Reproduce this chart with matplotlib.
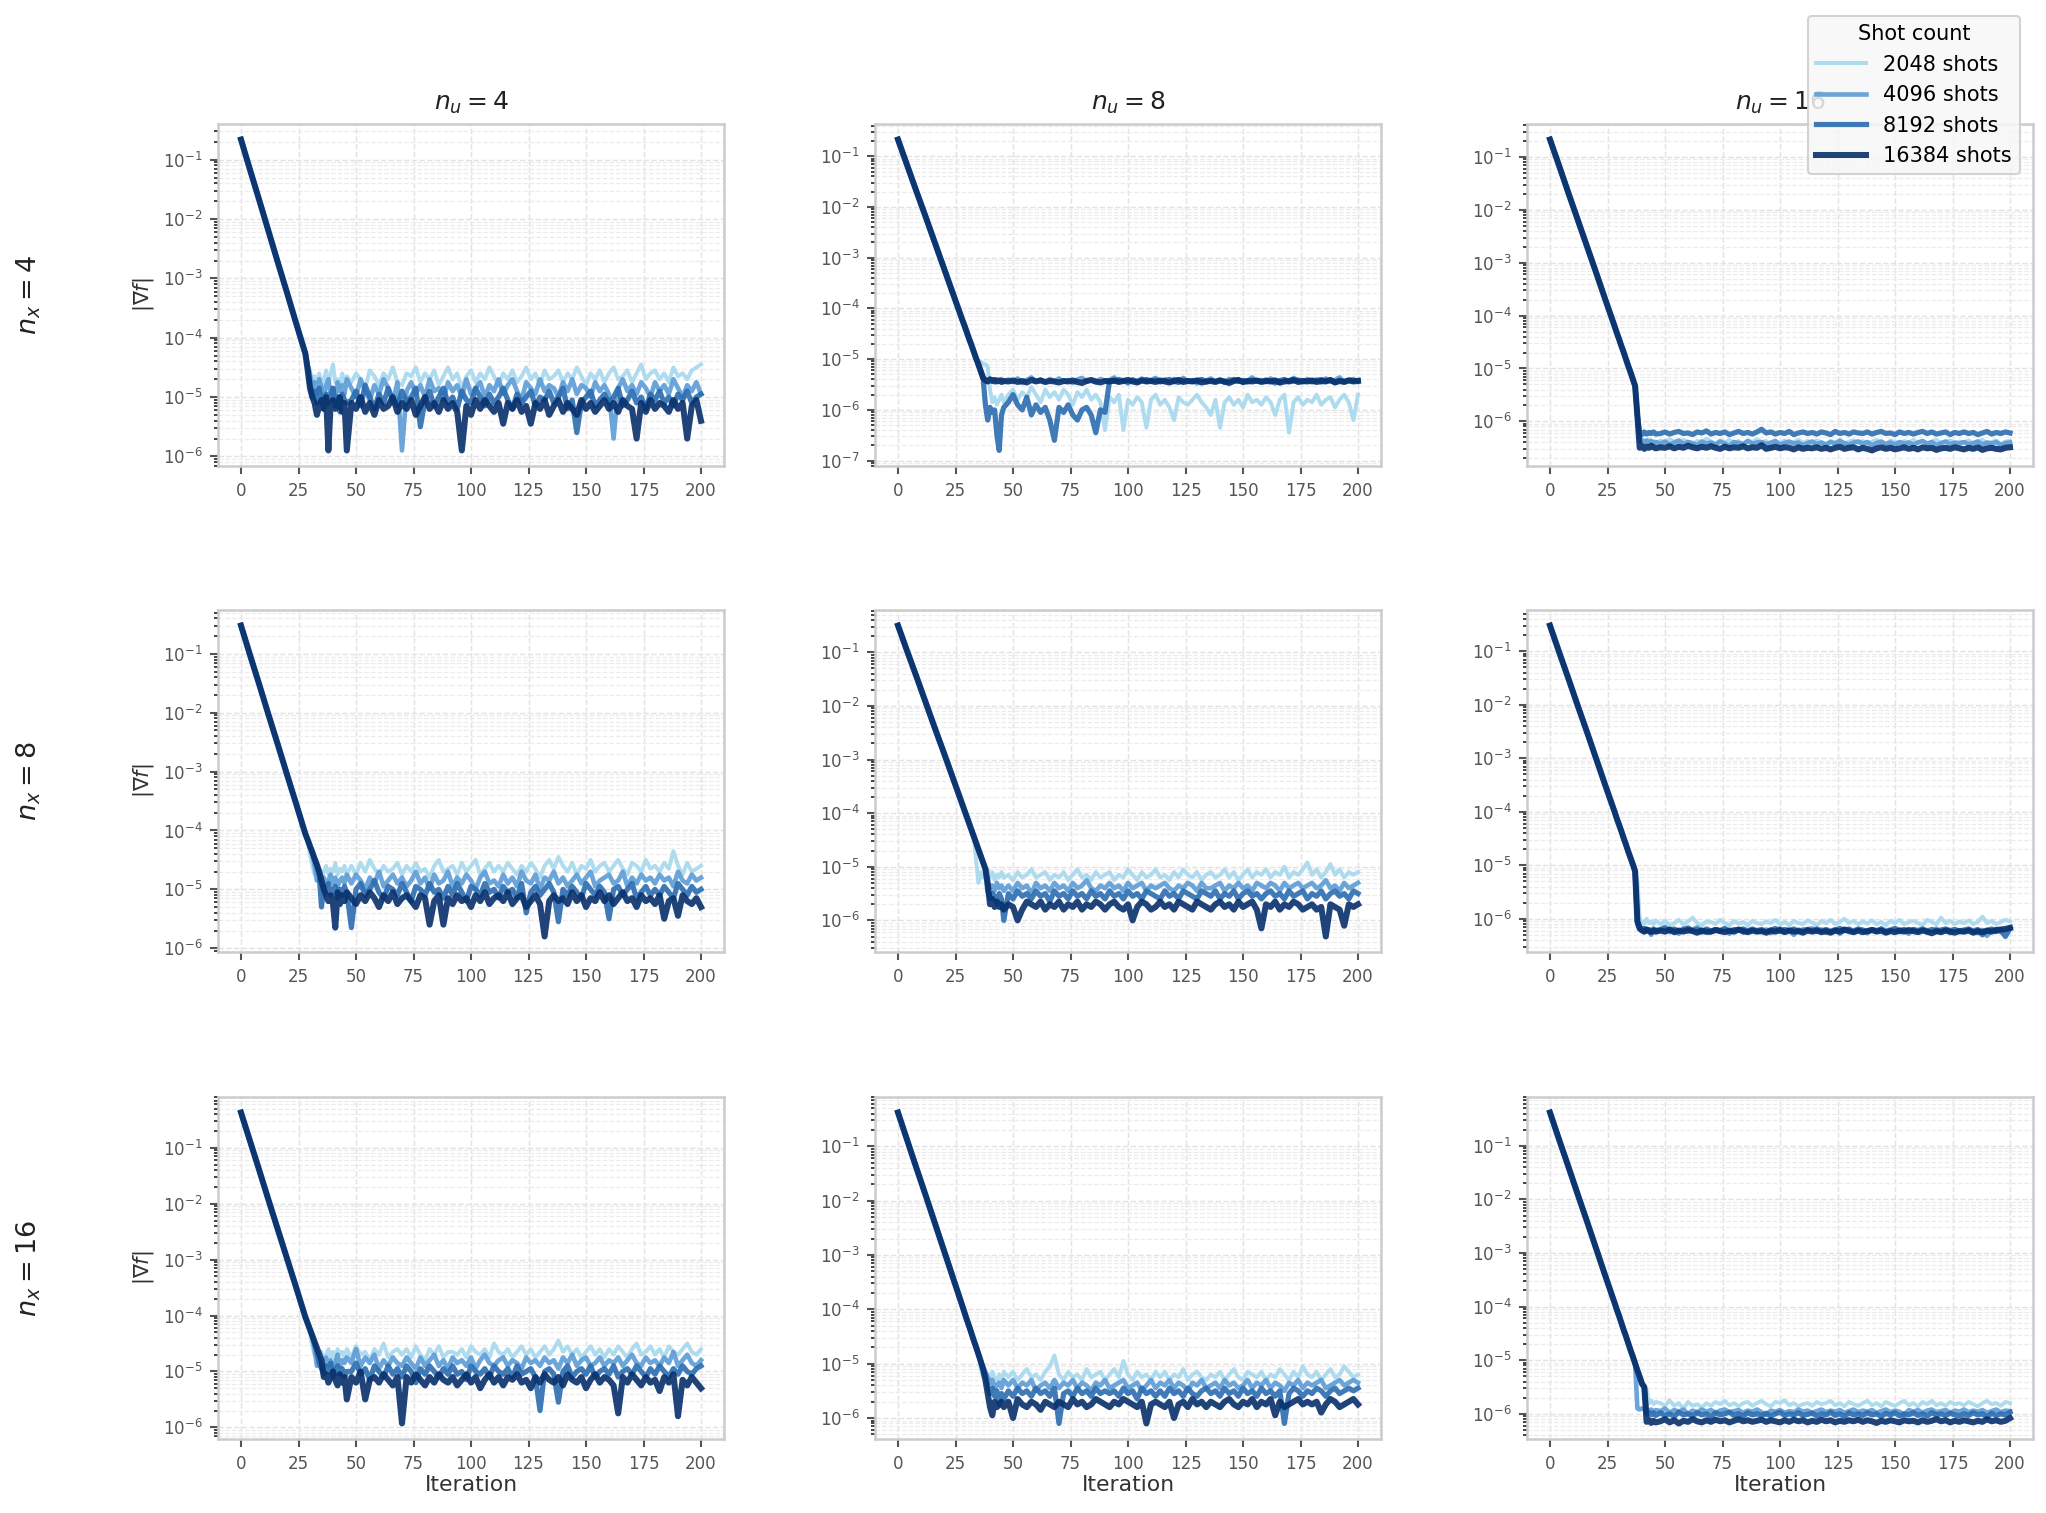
import numpy as np
import matplotlib
matplotlib.use("Agg")
import matplotlib.pyplot as plt
from matplotlib.ticker import LogLocator, NullFormatter

# ---------------- data: log10 of |grad f| ----------------
SHOTS = [2048, 4096, 8192, 16384]
NX = [4, 8, 16]
NU = [4, 8, 16]
ITER_HEAD = [0, 4, 8, 12, 16, 20, 24, 28]
ITER_MID = list(range(29, 47))          # 18 values
ITER_TAIL = list(range(48, 201, 2))     # 77 values

# ---- n_x = 4, n_u = 4
HEAD_4_4 = [-0.66, -1.18, -1.69, -2.21, -2.73, -3.24, -3.76, -4.27]
T_4_4_2048 = [-4.45, -4.7, -4.85, -4.65, -4.75, -4.6, -4.8, -4.7, -4.55, -4.8, -4.6, -4.45, -4.75, -4.7, -4.85, -4.6, -4.75, -4.65,
    -4.75, -4.6, -4.7, -4.85, -4.55, -4.65, -4.8, -4.6, -4.7, -4.5, -4.75,
    -4.8, -4.6, -4.65, -4.5, -4.75, -4.6, -4.7, -4.55, -4.8, -4.65, -4.5,
    -4.7, -4.6, -4.85, -4.65, -4.55, -4.75, -4.6, -4.7, -4.5, -4.65, -4.8,
    -4.6, -4.7, -4.55, -4.75, -4.65, -4.5, -4.7, -4.6, -4.8, -4.55, -4.7,
    -4.65, -4.55, -4.75, -4.6, -4.7, -4.5, -4.65, -4.8, -4.6, -4.7, -4.55,
    -4.75, -4.6, -4.5, -4.7, -4.65, -4.55, -4.75, -4.6, -4.45, -4.7, -4.6,
    -4.55, -4.7, -4.6, -4.75, -4.5, -4.65, -4.6, -4.7, -4.55, -4.5, -4.45]
T_4_4_4096 = [-4.45, -4.6, -4.9, -4.75, -4.95, -4.7, -4.85, -5.0, -4.8, -4.7, -4.95, -4.85, -5.05, -4.75, -4.9, -4.8, -4.95, -4.7,
    -4.85, -5.0, -4.7, -4.9, -5.05, -4.8, -4.95, -4.7, -4.85, -5.1, -4.75,
    -5.9, -4.9, -4.75, -4.95, -4.8, -5.0, -4.7, -4.9, -4.85, -5.05, -4.75,
    -4.9, -4.8, -5.0, -4.7, -4.95, -4.85, -4.75, -5.0, -4.8, -4.9, -4.7,
    -4.95, -4.8, -4.7, -4.9, -5.05, -4.75, -4.85, -4.95, -4.7, -4.9, -4.8,
    -4.85, -5.0, -4.75, -4.9, -4.7, -4.95, -4.8, -4.85, -5.0, -4.75, -4.9,
    -4.8, -4.95, -5.7, -4.85, -4.7, -4.9, -4.8, -4.95, -4.75, -4.85, -5.0,
    -4.75, -4.9, -4.8, -4.95, -4.7, -4.85, -5.0, -4.8, -4.9, -4.75, -4.95]
T_4_4_8192 = [-4.5, -4.8, -5.0, -4.9, -5.1, -4.85, -5.05, -5.2, -4.95, -5.1, -5.0, -4.85, -5.15, -5.0, -5.25, -4.95, -5.05, -5.1,
    -5.05, -4.9, -5.15, -4.8, -5.0, -5.2, -4.95, -5.1, -4.85, -5.05, -5.15,
    -4.9, -5.1, -5.0, -4.85, -5.5, -5.05, -4.9, -5.15, -5.0, -4.85, -5.1,
    -5.0, -5.2, -4.9, -5.05, -5.1, -4.85, -5.0, -5.15, -4.95, -5.1, -5.0,
    -4.85, -5.05, -5.2, -4.95, -5.1, -5.0, -4.9, -5.15, -5.0, -5.05, -4.9,
    -5.1, -5.0, -4.85, -5.2, -5.05, -5.6, -5.1, -5.0, -4.9, -5.15, -5.05,
    -4.95, -5.1, -5.0, -4.85, -5.15, -5.05, -4.9, -5.1, -5.0, -5.2, -4.95,
    -5.05, -4.9, -5.1, -5.0, -5.15, -4.95, -5.05, -4.9, -5.1, -5.0, -4.95]
T_4_4_16384 = [-4.55, -4.85, -5.0, -5.1, -5.3, -5.15, -5.05, -5.2, -5.0, -5.9, -5.1, -5.05, -5.2, -5.15, -5.0, -5.25, -5.1, -5.9,
    -5.1, -5.2, -5.0, -5.25, -5.1, -5.3, -5.05, -5.2, -5.15, -5.0, -5.25,
    -5.1, -5.2, -5.05, -5.3, -5.15, -5.0, -5.2, -5.1, -5.25, -5.05, -5.2,
    -5.1, -5.25, -5.9, -5.15, -5.3, -5.05, -5.2, -5.05, -5.15, -5.25, -5.1,
    -5.45, -5.1, -5.2, -5.05, -5.25, -5.15, -5.45, -5.1, -5.2, -5.05, -5.3,
    -5.15, -5.05, -5.25, -5.1, -5.2, -5.3, -5.05, -5.2, -5.1, -5.25, -5.15,
    -5.05, -5.2, -5.1, -5.25, -5.05, -5.15, -5.2, -5.7, -5.1, -5.25, -5.05,
    -5.2, -5.1, -5.15, -5.25, -5.05, -5.2, -5.1, -5.7, -5.15, -5.05, -5.4]

# ---- n_x = 4, n_u = 8
HEAD_4_8 = [-0.67, -1.18, -1.69, -2.19, -2.70, -3.21, -3.72, -4.23]
T_4_8_2048 = [-4.35, -4.48, -4.61, -4.73, -4.86, -4.99, -5.11, -5.05, -5.1, -5.1, -5.15, -5.6, -5.85, -5.75, -5.9, -5.8, -5.7, -5.85,
    -5.7, -5.6, -5.8, -5.65, -5.75, -5.55, -5.7, -5.85, -5.6, -5.75, -5.65,
    -5.8, -5.6, -5.7, -5.9, -5.65, -5.75, -5.6, -5.8, -5.7, -5.85, -6.4,
    -5.75, -5.85, -5.7, -6.4, -5.8, -5.9, -5.75, -5.85, -6.35, -5.8, -5.7,
    -5.9, -5.8, -5.95, -6.2, -5.75, -5.85, -5.9, -5.8, -5.7, -5.85, -5.95,
    -6.1, -5.8, -6.35, -5.85, -5.75, -5.9, -5.8, -5.95, -5.7, -5.85, -5.8,
    -5.9, -5.75, -5.85, -6.1, -5.8, -5.7, -6.45, -5.85, -5.75, -5.9, -5.8,
    -5.85, -5.7, -5.9, -5.8, -5.75, -5.95, -5.8, -5.7, -5.85, -6.2, -5.7]
T_4_8_4096 = [-4.35, -4.48, -4.61, -4.73, -4.86, -4.99, -5.11, -5.24, -5.37, -5.4, -5.45, -5.38, -5.42, -5.46, -5.4, -5.44, -5.39, -5.45,
    -5.4, -5.45, -5.38, -5.47, -5.41, -5.36, -5.44, -5.4, -5.46, -5.39, -5.43,
    -5.38, -5.45, -5.41, -5.47, -5.4, -5.37, -5.44, -5.42, -5.46, -5.39, -5.43,
    -5.41, -5.36, -5.45, -5.42, -5.48, -5.4, -5.43, -5.38, -5.45, -5.41, -5.37,
    -5.44, -5.4, -5.46, -5.39, -5.43, -5.37, -5.45, -5.41, -5.48, -5.4, -5.42,
    -5.38, -5.44, -5.41, -5.46, -5.39, -5.43, -5.4, -5.47, -5.42, -5.36, -5.44,
    -5.41, -5.45, -5.38, -5.43, -5.48, -5.4, -5.44, -5.37, -5.42, -5.46, -5.39,
    -5.43, -5.4, -5.46, -5.38, -5.44, -5.41, -5.36, -5.45, -5.42, -5.39, -5.44]
T_4_8_8192 = [-4.35, -4.48, -4.61, -4.73, -4.86, -4.99, -5.11, -5.24, -5.37, -5.9, -6.2, -5.95, -6.05, -6.0, -6.5, -6.8, -6.1, -5.95,
    -5.85, -5.7, -5.9, -6.0, -5.75, -6.1, -5.9, -6.05, -5.95, -6.2, -6.6,
    -5.95, -6.05, -5.9, -6.1, -6.2, -6.0, -5.95, -6.1, -6.45, -6.0, -6.05,
    -5.42, -5.44, -5.4, -5.43, -5.45, -5.41, -5.44, -5.42, -5.4, -5.43, -5.41,
    -5.45, -5.42, -5.4, -5.44, -5.46, -5.41, -5.43, -5.44, -5.42, -5.4, -5.45,
    -5.42, -5.44, -5.41, -5.46, -5.43, -5.4, -5.44, -5.42, -5.45, -5.41, -5.43,
    -5.44, -5.41, -5.43, -5.47, -5.42, -5.4, -5.45, -5.43, -5.41, -5.44, -5.42,
    -5.45, -5.42, -5.4, -5.43, -5.41, -5.46, -5.42, -5.44, -5.41, -5.43, -5.42]
T_4_8_16384 = [-4.35, -4.48, -4.61, -4.73, -4.86, -4.99, -5.11, -5.24, -5.37, -5.42, -5.44, -5.4, -5.43, -5.41, -5.44, -5.42, -5.45, -5.43,
    -5.44, -5.42, -5.45, -5.43, -5.46, -5.41, -5.44, -5.42, -5.45, -5.43, -5.44,
    -5.46, -5.43, -5.44, -5.42, -5.45, -5.47, -5.43, -5.41, -5.44, -5.46, -5.43,
    -5.44, -5.42, -5.45, -5.43, -5.41, -5.44, -5.46, -5.42, -5.44, -5.43, -5.45,
    -5.42, -5.44, -5.46, -5.43, -5.41, -5.45, -5.43, -5.44, -5.42, -5.46, -5.44,
    -5.43, -5.45, -5.42, -5.44, -5.47, -5.43, -5.41, -5.45, -5.43, -5.44, -5.42,
    -5.45, -5.43, -5.44, -5.42, -5.46, -5.44, -5.43, -5.41, -5.45, -5.43, -5.44,
    -5.42, -5.45, -5.43, -5.44, -5.41, -5.46, -5.43, -5.45, -5.42, -5.44, -5.43]

# ---- n_x = 4, n_u = 16
HEAD_4_16 = [-0.67, -1.17, -1.68, -2.18, -2.68, -3.18, -3.69, -4.19]
T_4_16_2048 = [-4.32, -4.44, -4.57, -4.69, -4.82, -4.95, -5.07, -5.2, -5.33, -5.9, -6.35, -6.4, -6.36, -6.38, -6.34, -6.4, -6.37, -6.42,
    -6.36, -6.4, -6.34, -6.38, -6.42, -6.35, -6.39, -6.44, -6.37, -6.4, -6.33,
    -6.38, -6.42, -6.36, -6.4, -6.35, -6.41, -6.37, -6.43, -6.36, -6.39, -6.34,
    -6.4, -6.37, -6.52, -6.38, -6.41, -6.36, -6.42, -6.39, -6.35, -6.4, -6.37,
    -6.41, -6.36, -6.39, -6.43, -6.37, -6.4, -6.35, -6.42, -6.38, -6.36, -6.41,
    -6.37, -6.42, -6.38, -6.35, -6.4, -6.43, -6.36, -6.39, -6.41, -6.37, -6.4,
    -6.35, -6.4, -6.37, -6.43, -6.38, -6.35, -6.41, -6.39, -6.36, -6.42, -6.38,
    -6.4, -6.36, -6.42, -6.38, -6.35, -6.41, -6.39, -6.36, -6.43, -6.38, -6.37]
T_4_16_4096 = [-4.32, -4.44, -4.57, -4.69, -4.82, -4.95, -5.07, -5.2, -5.33, -5.9, -6.38, -6.35, -6.4, -6.36, -6.41, -6.37, -6.42, -6.39,
    -6.42, -6.38, -6.44, -6.4, -6.36, -6.43, -6.39, -6.41, -6.45, -6.38, -6.42,
    -6.4, -6.44, -6.38, -6.42, -6.46, -6.39, -6.41, -6.43, -6.37, -6.42, -6.4,
    -6.39, -6.43, -6.4, -6.37, -6.44, -6.41, -6.38, -6.42, -6.4, -6.45, -6.41,
    -6.38, -6.43, -6.4, -6.44, -6.39, -6.42, -6.37, -6.41, -6.44, -6.4, -6.38,
    -6.42, -6.39, -6.45, -6.41, -6.38, -6.43, -6.4, -6.44, -6.39, -6.42, -6.4,
    -6.44, -6.4, -6.37, -6.42, -6.39, -6.45, -6.41, -6.38, -6.43, -6.4, -6.42,
    -6.39, -6.43, -6.41, -6.38, -6.44, -6.4, -6.42, -6.39, -6.45, -6.41, -6.4]
T_4_16_8192 = [-4.32, -4.44, -4.57, -4.69, -4.82, -4.95, -5.07, -5.2, -5.33, -5.9, -6.22, -6.25, -6.2, -6.24, -6.21, -6.23, -6.2, -6.24,
    -6.23, -6.2, -6.24, -6.21, -6.19, -6.23, -6.22, -6.25, -6.2, -6.22, -6.18,
    -6.24, -6.21, -6.23, -6.2, -6.25, -6.22, -6.19, -6.23, -6.21, -6.24, -6.2,
    -6.15, -6.22, -6.2, -6.24, -6.21, -6.23, -6.19, -6.25, -6.22, -6.2, -6.23,
    -6.21, -6.24, -6.2, -6.22, -6.25, -6.19, -6.23, -6.21, -6.24, -6.2, -6.22,
    -6.23, -6.2, -6.24, -6.21, -6.19, -6.23, -6.22, -6.25, -6.2, -6.23, -6.21,
    -6.24, -6.21, -6.19, -6.23, -6.2, -6.24, -6.22, -6.2, -6.25, -6.21, -6.23,
    -6.2, -6.23, -6.21, -6.25, -6.22, -6.19, -6.24, -6.21, -6.23, -6.2, -6.22]
T_4_16_16384 = [-4.32, -4.44, -4.57, -4.69, -4.82, -4.95, -5.07, -5.2, -5.33, -5.9, -6.5, -6.47, -6.52, -6.48, -6.5, -6.46, -6.49, -6.51,
    -6.49, -6.5, -6.47, -6.51, -6.48, -6.5, -6.46, -6.49, -6.51, -6.48, -6.5,
    -6.47, -6.5, -6.52, -6.48, -6.51, -6.49, -6.5, -6.47, -6.51, -6.49, -6.5,
    -6.45, -6.52, -6.5, -6.48, -6.51, -6.49, -6.5, -6.53, -6.49, -6.52, -6.5,
    -6.51, -6.49, -6.52, -6.5, -6.53, -6.5, -6.48, -6.52, -6.5, -6.49, -6.53,
    -6.5, -6.52, -6.55, -6.51, -6.49, -6.52, -6.5, -6.53, -6.51, -6.49, -6.52,
    -6.5, -6.53, -6.49, -6.51, -6.5, -6.54, -6.51, -6.5, -6.52, -6.49, -6.51,
    -6.53, -6.5, -6.52, -6.49, -6.54, -6.51, -6.5, -6.52, -6.53, -6.5, -6.49]

# ---- n_x = 8, n_u = 4
HEAD_8_4 = [-0.52, -1.03, -1.53, -2.04, -2.54, -3.05, -3.55, -4.06]
T_8_4_2048 = [-4.16, -4.4, -4.6, -4.75, -4.7, -4.65, -4.8, -4.7, -4.6, -4.75, -4.65, -4.7, -4.55, -4.75, -4.65, -4.7, -4.6, -4.75,
    -4.6, -4.75, -4.55, -4.7, -4.5, -4.65, -4.75, -4.6, -4.7, -4.65, -4.55,
    -4.75, -4.6, -4.7, -4.55, -4.7, -4.65, -4.8, -4.6, -4.5, -4.7, -4.65,
    -4.6, -4.75, -4.55, -4.7, -4.6, -4.5, -4.75, -4.65, -4.55, -4.7, -4.6,
    -4.7, -4.55, -4.65, -4.75, -4.6, -4.7, -4.55, -4.65, -4.8, -4.6, -4.5,
    -4.65, -4.45, -4.6, -4.7, -4.55, -4.75, -4.6, -4.65, -4.5, -4.7, -4.6,
    -4.55, -4.7, -4.6, -4.5, -4.65, -4.75, -4.55, -4.6, -4.7, -4.5, -4.65,
    -4.6, -4.7, -4.55, -4.65, -4.35, -4.6, -4.75, -4.55, -4.7, -4.65, -4.6]
T_8_4_4096 = [-4.16, -4.25, -4.4, -4.6, -4.85, -4.75, -4.9, -4.8, -4.95, -4.85, -4.75, -4.9, -4.8, -4.95, -4.85, -4.8, -4.9, -4.75,
    -4.9, -4.75, -4.85, -5.0, -4.8, -4.9, -4.7, -4.95, -4.85, -4.75, -4.9,
    -4.8, -4.95, -4.85, -4.7, -4.9, -4.8, -5.0, -4.75, -4.9, -4.85, -4.7,
    -4.95, -4.8, -4.9, -4.75, -4.85, -5.0, -4.8, -4.7, -4.9, -4.85, -4.95,
    -4.75, -4.9, -4.8, -4.95, -4.7, -4.85, -4.9, -4.75, -5.0, -4.8, -4.85,
    -4.7, -4.9, -4.8, -4.95, -4.85, -4.75, -4.9, -4.8, -4.7, -4.95, -4.85,
    -4.8, -4.75, -4.9, -4.85, -4.7, -4.95, -4.8, -4.9, -4.75, -4.85, -4.8,
    -4.9, -4.75, -4.85, -4.8, -4.95, -4.7, -4.85, -4.9, -4.75, -4.85, -4.8]
T_8_4_8192 = [-4.16, -4.27, -4.37, -4.48, -4.6, -4.75, -5.3, -4.95, -5.05, -4.9, -5.1, -5.0, -4.95, -5.15, -5.0, -5.1, -4.95, -5.05,
    -5.65, -5.0, -4.9, -5.1, -5.0, -4.85, -5.05, -5.15, -4.95, -5.0, -5.1,
    -4.9, -5.05, -5.2, -4.95, -5.0, -5.1, -4.9, -5.05, -5.0, -5.15, -4.95,
    -5.1, -4.9, -5.05, -5.2, -4.95, -5.0, -5.1, -4.9, -5.05, -5.0, -5.15,
    -4.95, -5.05, -5.0, -5.15, -4.9, -5.4, -5.05, -4.95, -5.1, -5.0, -4.9,
    -5.05, -5.55, -5.0, -5.1, -4.95, -5.05, -5.15, -4.9, -5.0, -5.1, -4.95,
    -5.05, -5.5, -5.0, -4.95, -5.1, -5.0, -4.9, -5.15, -5.05, -4.95, -5.1,
    -5.0, -5.1, -4.95, -5.05, -5.15, -4.9, -5.0, -5.1, -4.95, -5.05, -5.0]
T_8_4_16384 = [-4.16, -4.27, -4.37, -4.48, -4.58, -4.7, -4.85, -5.0, -5.1, -5.2, -5.1, -5.25, -5.65, -5.05, -5.25, -5.1, -5.2, -5.05,
    -5.15, -5.25, -5.1, -5.2, -5.05, -5.15, -5.3, -5.1, -5.2, -5.05, -5.25,
    -5.15, -5.1, -5.2, -5.3, -5.1, -5.15, -5.6, -5.2, -5.1, -5.6, -5.15,
    -5.25, -5.1, -5.2, -5.15, -5.3, -5.1, -5.2, -5.05, -5.25, -5.15, -5.1,
    -5.2, -5.05, -5.25, -5.15, -5.1, -5.3, -5.2, -5.1, -5.25, -5.8, -5.2,
    -5.1, -5.2, -5.15, -5.25, -5.05, -5.2, -5.1, -5.3, -5.15, -5.2, -5.05,
    -5.2, -5.1, -5.25, -5.15, -5.05, -5.2, -5.15, -5.3, -5.1, -5.2, -5.15,
    -5.25, -5.1, -5.5, -5.2, -5.15, -5.45, -5.1, -5.2, -5.25, -5.15, -5.3]

# ---- n_x = 8, n_u = 8
HEAD_8_8 = [-0.5, -0.98, -1.45, -1.93, -2.41, -2.88, -3.36, -3.84]
T_8_8_2048 = [-3.96, -4.08, -4.2, -4.32, -4.44, -4.9, -5.3, -5.1, -5.2, -5.15, -5.05, -5.2, -5.1, -5.25, -5.15, -5.2, -5.1, -5.2,
    -5.15, -5.25, -5.1, -5.2, -5.15, -5.05, -5.2, -5.15, -5.1, -5.25, -5.15,
    -5.2, -5.1, -5.25, -5.15, -5.05, -5.2, -5.15, -5.25, -5.1, -5.2, -5.15,
    -5.1, -5.25, -5.15, -5.2, -5.05, -5.15, -5.25, -5.1, -5.2, -5.15, -5.05,
    -5.2, -5.15, -5.25, -5.1, -5.2, -5.05, -5.15, -5.2, -5.1, -5.25, -5.15,
    -5.1, -5.2, -5.15, -5.05, -5.2, -5.1, -5.25, -5.15, -5.05, -5.2, -5.1,
    -5.15, -5.05, -5.2, -5.1, -5.15, -5.0, -5.2, -5.1, -5.15, -5.05, -4.92,
    -5.15, -5.05, -5.2, -5.1, -4.95, -5.15, -5.05, -5.2, -5.1, -5.15, -5.1]
T_8_8_4096 = [-3.96, -4.08, -4.2, -4.32, -4.44, -4.56, -4.68, -4.8, -4.92, -5.04, -5.3, -5.4, -5.35, -5.45, -5.3, -5.4, -5.35, -5.45,
    -5.35, -5.45, -5.3, -5.4, -5.35, -5.5, -5.3, -5.4, -5.35, -5.45, -5.3,
    -5.4, -5.35, -5.45, -5.3, -5.4, -5.35, -5.25, -5.4, -5.45, -5.35, -5.4,
    -5.3, -5.4, -5.35, -5.45, -5.3, -5.4, -5.35, -5.3, -5.45, -5.35, -5.4,
    -5.35, -5.3, -5.4, -5.45, -5.35, -5.4, -5.3, -5.35, -5.45, -5.3, -5.4,
    -5.4, -5.35, -5.3, -5.45, -5.35, -5.4, -5.3, -5.4, -5.35, -5.45, -5.3,
    -5.35, -5.4, -5.3, -5.35, -5.45, -5.3, -5.4, -5.35, -5.3, -5.4, -5.35,
    -5.3, -5.4, -5.35, -5.25, -5.4, -5.35, -5.45, -5.3, -5.4, -5.35, -5.3]
T_8_8_8192 = [-3.96, -4.08, -4.2, -4.32, -4.44, -4.56, -4.68, -4.8, -4.92, -5.04, -5.45, -5.6, -5.5, -5.55, -5.7, -5.5, -5.6, -6.0,
    -5.5, -5.6, -5.45, -5.55, -5.5, -5.6, -5.45, -5.55, -5.5, -5.65, -5.45,
    -5.55, -5.5, -5.6, -5.45, -5.55, -5.5, -5.6, -5.45, -5.55, -5.5, -5.6,
    -5.45, -5.55, -5.5, -5.6, -5.45, -5.55, -5.5, -5.6, -5.45, -5.5, -5.55,
    -5.6, -5.45, -5.55, -5.5, -5.6, -5.45, -5.5, -5.55, -5.6, -5.45, -5.5,
    -5.55, -5.45, -5.6, -5.5, -5.55, -5.45, -5.6, -5.5, -5.45, -5.55, -5.5,
    -5.6, -5.5, -5.45, -5.55, -5.5, -5.6, -5.45, -5.55, -5.5, -5.45, -5.6,
    -5.5, -5.55, -5.45, -5.6, -5.5, -5.45, -5.55, -5.5, -5.6, -5.45, -5.5]
T_8_8_16384 = [-3.96, -4.08, -4.2, -4.32, -4.44, -4.56, -4.68, -4.8, -4.92, -5.04, -5.3, -5.7, -5.6, -5.75, -5.65, -5.75, -5.7, -5.8,
    -5.7, -5.75, -6.0, -5.8, -5.65, -5.7, -5.75, -5.65, -5.8, -5.7, -5.75,
    -5.65, -5.8, -5.7, -5.75, -5.65, -5.8, -5.7, -5.75, -5.65, -5.7, -5.8,
    -5.7, -5.65, -5.75, -5.8, -5.7, -6.0, -5.75, -5.65, -5.7, -5.8, -5.75,
    -5.65, -5.75, -5.7, -5.8, -5.65, -5.7, -5.75, -5.8, -5.65, -5.7, -5.75,
    -5.8, -5.7, -5.65, -5.75, -5.7, -5.8, -5.65, -5.75, -5.7, -5.65, -5.8,
    -6.15, -5.7, -5.75, -5.65, -5.8, -5.7, -5.75, -5.65, -5.7, -5.8, -5.75,
    -5.7, -5.8, -5.75, -6.3, -5.7, -5.75, -5.8, -6.1, -5.7, -5.75, -5.7]

# ---- n_x = 8, n_u = 16
HEAD_8_16 = [-0.52, -1.02, -1.51, -2.01, -2.5, -3.0, -3.5, -3.99]
T_8_16_2048 = [-4.12, -4.24, -4.36, -4.49, -4.61, -4.74, -4.86, -4.98, -5.11, -5.3, -6.0, -6.05, -6.1, -6.0, -6.08, -6.05, -6.1, -6.03,
    -6.1, -6.04, -6.12, -6.08, -6.02, -6.1, -6.05, -5.98, -6.08, -6.12, -6.05,
    -6.06, -6.1, -6.02, -6.08, -6.12, -6.04, -6.09, -6.06, -6.12, -6.04, -6.08,
    -6.1, -6.05, -6.08, -6.02, -6.1, -6.06, -6.12, -6.04, -6.08, -6.1, -6.03,
    -6.07, -6.12, -6.04, -6.08, -6.02, -6.1, -6.06, -6.0, -6.08, -6.04, -6.1,
    -6.05, -6.09, -6.03, -6.1, -6.06, -6.12, -6.04, -6.08, -6.02, -6.1, -6.06,
    -6.04, -6.08, -6.12, -6.02, -6.06, -6.1, -5.98, -6.08, -6.04, -6.1, -6.05,
    -6.08, -6.03, -6.1, -6.06, -5.96, -6.08, -6.04, -6.1, -6.06, -6.02, -6.05]
T_8_16_4096 = [-4.12, -4.24, -4.36, -4.49, -4.61, -4.74, -4.86, -4.98, -5.11, -6.1, -6.2, -6.18, -6.25, -6.2, -6.22, -6.3, -6.2, -6.24,
    -6.2, -6.15, -6.25, -6.22, -6.28, -6.18, -6.24, -6.2, -6.16, -6.22, -6.26,
    -6.25, -6.2, -6.24, -6.18, -6.28, -6.22, -6.2, -6.26, -6.22, -6.18, -6.24,
    -6.24, -6.2, -6.27, -6.22, -6.18, -6.25, -6.22, -6.3, -6.2, -6.24, -6.19,
    -6.18, -6.24, -6.2, -6.26, -6.22, -6.2, -6.28, -6.22, -6.18, -6.25, -6.21,
    -6.22, -6.27, -6.2, -6.24, -6.18, -6.26, -6.22, -6.2, -6.25, -6.21, -6.28,
    -6.2, -6.24, -6.19, -6.26, -6.22, -6.18, -6.25, -6.21, -6.27, -6.2, -6.23,
    -6.25, -6.2, -6.23, -6.27, -6.21, -6.32, -6.22, -6.19, -6.25, -6.2, -6.18]
T_8_16_8192 = [-4.12, -4.24, -4.36, -4.49, -4.61, -4.74, -4.86, -4.98, -5.11, -6.05, -6.15, -6.2, -6.18, -6.22, -6.2, -6.24, -6.19, -6.22,
    -6.2, -6.18, -6.22, -6.19, -6.24, -6.2, -6.17, -6.22, -6.2, -6.25, -6.19,
    -6.23, -6.2, -6.22, -6.18, -6.24, -6.2, -6.21, -6.19, -6.23, -6.2, -6.22,
    -6.2, -6.24, -6.21, -6.18, -6.23, -6.2, -6.22, -6.19, -6.24, -6.21, -6.2,
    -6.22, -6.19, -6.23, -6.2, -6.24, -6.21, -6.18, -6.22, -6.2, -6.23, -6.19,
    -6.21, -6.24, -6.2, -6.22, -6.19, -6.23, -6.21, -6.18, -6.22, -6.2, -6.24,
    -6.2, -6.22, -6.19, -6.23, -6.2, -6.24, -6.21, -6.19, -6.22, -6.2, -6.23,
    -6.21, -6.19, -6.23, -6.2, -6.3, -6.22, -6.19, -6.24, -6.21, -6.33, -6.18]
T_8_16_16384 = [-4.12, -4.24, -4.36, -4.49, -4.61, -4.74, -4.86, -4.98, -5.11, -6.05, -6.18, -6.22, -6.24, -6.2, -6.23, -6.25, -6.22, -6.24,
    -6.22, -6.24, -6.2, -6.25, -6.22, -6.24, -6.21, -6.23, -6.26, -6.22, -6.24,
    -6.24, -6.21, -6.23, -6.25, -6.22, -6.24, -6.2, -6.23, -6.25, -6.22, -6.24,
    -6.23, -6.26, -6.22, -6.24, -6.21, -6.25, -6.22, -6.24, -6.23, -6.26, -6.22,
    -6.24, -6.22, -6.25, -6.23, -6.26, -6.22, -6.24, -6.2, -6.23, -6.25, -6.22,
    -6.25, -6.23, -6.21, -6.24, -6.22, -6.26, -6.23, -6.25, -6.22, -6.24, -6.21,
    -6.23, -6.25, -6.22, -6.24, -6.27, -6.23, -6.25, -6.22, -6.24, -6.26, -6.23,
    -6.24, -6.22, -6.26, -6.23, -6.25, -6.22, -6.24, -6.21, -6.2, -6.19, -6.17]

# ---- n_x = 16, n_u = 4
HEAD_16_4 = [-0.37, -0.89, -1.41, -1.94, -2.46, -2.98, -3.5, -4.03]
T_16_4_2048 = [-4.14, -4.3, -4.55, -4.7, -4.6, -4.75, -4.65, -4.8, -4.7, -4.6, -4.75, -4.65, -4.8, -4.6, -4.7, -4.65, -4.75, -4.6,
    -4.75, -4.55, -4.7, -4.65, -4.8, -4.6, -4.7, -4.5, -4.75, -4.65, -4.6,
    -4.7, -4.6, -4.75, -4.55, -4.7, -4.8, -4.6, -4.7, -4.55, -4.75, -4.65,
    -4.65, -4.7, -4.6, -4.75, -4.55, -4.65, -4.7, -4.6, -4.75, -4.5, -4.65,
    -4.7, -4.6, -4.75, -4.65, -4.55, -4.7, -4.6, -4.75, -4.65, -4.55, -4.7,
    -4.6, -4.45, -4.65, -4.55, -4.7, -4.6, -4.75, -4.65, -4.55, -4.7, -4.6,
    -4.75, -4.6, -4.7, -4.55, -4.65, -4.75, -4.6, -4.5, -4.7, -4.65, -4.55,
    -4.7, -4.6, -4.75, -4.55, -4.65, -4.7, -4.6, -4.5, -4.65, -4.7, -4.6]
T_16_4_4096 = [-4.14, -4.25, -4.4, -4.6, -4.9, -4.8, -4.95, -4.85, -4.75, -4.9, -4.8, -4.95, -4.85, -4.7, -4.9, -4.8, -4.85, -4.75,
    -4.85, -4.6, -4.9, -4.75, -4.85, -4.7, -4.95, -4.8, -4.9, -4.75, -4.85,
    -4.9, -4.75, -4.85, -4.95, -4.75, -4.9, -4.8, -4.7, -4.9, -4.8, -4.95,
    -4.75, -4.85, -4.8, -4.9, -4.75, -4.95, -4.8, -4.7, -4.85, -4.9, -4.8,
    -4.75, -4.9, -4.8, -4.85, -4.95, -4.75, -4.85, -4.8, -4.9, -4.75, -4.85,
    -4.8, -4.95, -4.75, -4.85, -4.7, -4.9, -4.8, -4.75, -4.9, -4.85, -4.75,
    -4.9, -4.8, -4.85, -4.75, -4.9, -4.8, -4.7, -4.85, -4.9, -4.75, -4.85,
    -4.8, -4.9, -4.75, -4.85, -4.65, -4.9, -4.8, -4.7, -4.85, -4.9, -4.8]
T_16_4_8192 = [-4.14, -4.25, -4.36, -4.5, -4.65, -4.85, -4.95, -5.05, -4.9, -5.0, -4.85, -5.1, -5.0, -4.9, -5.05, -4.95, -5.1, -5.0,
    -5.0, -4.85, -5.05, -4.95, -5.15, -4.9, -5.0, -5.1, -4.9, -5.05, -4.95,
    -5.1, -4.9, -5.0, -5.2, -4.95, -5.05, -4.9, -5.0, -5.1, -4.95, -5.05,
    -4.9, -5.05, -5.0, -5.15, -4.9, -5.0, -5.05, -4.95, -5.1, -4.9, -5.0,
    -5.05, -4.95, -5.1, -4.9, -5.05, -5.0, -4.95, -5.1, -5.7, -5.0, -4.95,
    -5.05, -5.55, -5.0, -4.9, -5.1, -5.0, -4.95, -5.05, -4.9, -5.1, -5.0,
    -4.95, -5.05, -4.9, -5.1, -5.0, -4.95, -5.05, -4.9, -5.0, -5.1, -4.95,
    -5.05, -4.9, -5.0, -5.1, -4.95, -5.05, -4.9, -5.0, -5.05, -4.95, -4.9]
T_16_4_16384 = [-4.14, -4.25, -4.36, -4.47, -4.58, -4.69, -4.8, -5.1, -5.05, -5.2, -5.1, -5.0, -5.15, -5.25, -5.05, -5.2, -5.1, -5.5,
    -5.1, -5.2, -5.0, -5.5, -5.15, -5.1, -5.2, -5.05, -5.15, -5.25, -5.1,
    -5.93, -5.1, -5.2, -5.05, -5.15, -5.25, -5.1, -5.2, -5.05, -5.15, -5.2,
    -5.1, -5.25, -5.15, -5.05, -5.2, -5.1, -5.3, -5.15, -5.05, -5.2, -5.1,
    -5.25, -5.1, -5.15, -5.05, -5.2, -5.15, -5.3, -5.1, -5.2, -5.05, -5.15,
    -5.2, -5.1, -5.25, -5.05, -5.15, -5.2, -5.1, -5.3, -5.15, -5.05, -5.2,
    -5.1, -5.15, -5.25, -5.75, -5.1, -5.2, -5.05, -5.15, -5.25, -5.1, -5.2,
    -5.15, -5.35, -5.1, -5.2, -5.05, -5.8, -5.15, -5.25, -5.1, -5.2, -5.3]

# ---- n_x = 16, n_u = 8
HEAD_16_8 = [-0.38, -0.89, -1.4, -1.9, -2.41, -2.92, -3.43, -3.94]
T_16_8_2048 = [-4.07, -4.2, -4.32, -4.45, -4.58, -4.7, -4.83, -5.1, -5.25, -5.15, -5.2, -5.3, -5.15, -5.25, -5.35, -5.2, -5.3, -5.15,
    -5.25, -5.15, -5.3, -5.2, -5.1, -5.25, -5.2, -5.3, -5.15, -5.05, -4.85,
    -5.2, -5.3, -5.15, -5.25, -5.2, -5.3, -5.1, -5.25, -5.2, -5.15, -5.3,
    -5.2, -5.1, -5.25, -4.95, -5.2, -5.3, -5.15, -5.25, -5.2, -5.3, -5.15,
    -5.25, -5.15, -5.3, -5.2, -5.25, -5.1, -5.3, -5.2, -5.15, -5.25, -5.3,
    -5.2, -5.25, -5.15, -5.3, -5.2, -5.1, -5.25, -5.3, -5.15, -5.2, -5.25,
    -5.15, -5.3, -5.2, -5.25, -5.1, -5.2, -5.3, -5.15, -5.25, -5.05, -5.2,
    -5.25, -5.15, -5.3, -5.2, -5.1, -5.25, -5.2, -5.05, -5.15, -5.25, -5.2]
T_16_8_4096 = [-4.07, -4.2, -4.32, -4.45, -4.58, -4.7, -4.83, -4.96, -5.05, -5.15, -5.25, -5.35, -5.3, -5.45, -5.4, -5.35, -5.45, -5.3,
    -5.4, -5.3, -5.45, -5.35, -5.4, -5.3, -5.5, -5.4, -5.35, -5.45, -5.3,
    -5.45, -5.35, -5.4, -5.3, -5.45, -5.35, -5.4, -5.5, -5.35, -5.4, -5.3,
    -5.45, -5.4, -5.35, -5.3, -5.45, -5.4, -5.35, -5.5, -5.4, -5.3, -5.45,
    -5.35, -5.4, -5.3, -5.45, -5.35, -5.4, -5.5, -5.35, -5.4, -5.3, -5.45,
    -5.4, -5.35, -5.45, -5.3, -5.4, -5.35, -5.45, -5.4, -5.3, -5.45, -5.35,
    -5.4, -5.3, -5.45, -5.35, -5.4, -5.5, -5.35, -5.4, -5.3, -5.45, -5.35,
    -5.4, -5.35, -5.3, -5.45, -5.4, -5.35, -5.3, -5.4, -5.35, -5.3, -5.35]
T_16_8_8192 = [-4.07, -4.2, -4.32, -4.45, -4.58, -4.7, -4.83, -4.96, -5.1, -5.2, -5.4, -5.55, -5.45, -5.6, -5.5, -5.75, -5.55, -5.65,
    -5.5, -5.6, -5.45, -5.55, -5.5, -5.6, -5.45, -5.55, -5.5, -5.6, -5.45,
    -6.1, -5.55, -5.5, -5.6, -5.45, -5.55, -5.5, -5.6, -5.45, -5.55, -5.5,
    -5.55, -5.5, -5.6, -5.45, -5.55, -5.5, -5.65, -5.45, -5.55, -5.5, -5.6,
    -5.5, -5.6, -5.45, -5.55, -5.5, -5.6, -5.45, -5.55, -5.6, -5.5, -5.45,
    -5.55, -5.5, -5.6, -5.45, -5.55, -5.5, -5.6, -5.45, -5.55, -5.5, -5.6,
    -5.45, -5.55, -5.5, -5.6, -5.5, -6.1, -5.55, -5.45, -5.5, -5.6, -5.5,
    -5.55, -5.45, -5.5, -5.6, -5.5, -5.45, -5.55, -5.5, -5.45, -5.5, -5.45]
T_16_8_16384 = [-4.07, -4.2, -4.32, -4.45, -4.58, -4.7, -4.83, -4.96, -5.1, -5.3, -5.55, -5.8, -5.95, -5.7, -5.8, -5.75, -5.7, -5.8,
    -5.7, -6.0, -5.65, -5.75, -5.8, -5.7, -5.75, -5.85, -5.7, -5.75, -5.8,
    -5.7, -5.75, -5.8, -5.65, -5.75, -5.7, -5.8, -5.75, -5.65, -5.7, -5.75,
    -5.8, -5.7, -5.75, -5.65, -5.7, -5.75, -5.8, -5.7, -6.1, -5.75, -5.7,
    -5.75, -5.8, -5.7, -6.0, -5.75, -5.7, -5.8, -5.65, -5.75, -5.7, -5.8,
    -5.7, -5.75, -5.8, -5.7, -5.65, -5.75, -5.8, -5.7, -5.75, -5.65, -5.8,
    -5.7, -5.75, -5.65, -5.95, -5.7, -5.8, -5.75, -5.7, -5.65, -5.75, -5.7,
    -5.75, -5.7, -5.9, -5.75, -5.65, -5.7, -5.8, -5.75, -5.7, -5.65, -5.75]

# ---- n_x = 16, n_u = 16
HEAD_16_16 = [-0.38, -0.89, -1.39, -1.9, -2.4, -2.91, -3.42, -3.92]
T_16_16_2048 = [-4.05, -4.17, -4.3, -4.43, -4.55, -4.68, -4.81, -4.93, -5.06, -5.19, -5.31, -5.44, -5.5, -5.55, -5.8, -5.75, -5.82, -5.78,
    -5.8, -5.85, -5.75, -5.85, -5.8, -5.9, -5.78, -5.85, -5.82, -5.88, -5.8,
    -5.85, -5.78, -5.82, -5.76, -5.84, -5.8, -5.86, -5.8, -5.78, -5.85, -5.8,
    -5.76, -5.82, -5.86, -5.78, -5.8, -5.75, -5.84, -5.8, -5.86, -5.82, -5.8,
    -5.85, -5.78, -5.82, -5.8, -5.76, -5.84, -5.8, -5.86, -5.78, -5.82, -5.85,
    -5.8, -5.76, -5.84, -5.8, -5.86, -5.78, -5.82, -5.85, -5.8, -5.76, -5.84,
    -5.8, -5.86, -5.78, -5.82, -5.76, -5.84, -5.8, -5.85, -5.78, -5.82, -5.8,
    -5.84, -5.78, -5.82, -5.86, -5.8, -5.76, -5.82, -5.8, -5.85, -5.78, -5.8]
T_16_16_4096 = [-4.05, -4.17, -4.3, -4.43, -4.55, -4.68, -4.81, -4.93, -5.06, -5.9, -5.92, -5.9, -5.91, -5.9, -5.95, -5.92, -5.96, -5.93,
    -5.95, -5.9, -5.98, -5.93, -5.96, -5.92, -6.0, -5.94, -5.97, -5.92, -5.96,
    -5.93, -5.98, -5.94, -5.92, -5.97, -5.95, -5.93, -5.98, -5.94, -5.96, -5.92,
    -5.97, -6.02, -5.94, -5.96, -5.93, -5.98, -5.95, -5.97, -5.92, -5.96, -5.94,
    -5.98, -5.95, -5.92, -5.97, -5.94, -5.96, -5.93, -5.98, -5.95, -5.92, -5.97,
    -5.94, -5.96, -5.93, -5.98, -5.95, -5.92, -5.97, -5.94, -5.96, -6.02, -5.93,
    -5.96, -5.93, -5.98, -5.94, -5.92, -5.97, -5.95, -5.93, -5.98, -5.94, -5.96,
    -5.92, -5.97, -5.94, -5.96, -5.93, -5.98, -5.95, -5.92, -5.97, -5.94, -5.95]
T_16_16_8192 = [-4.05, -4.17, -4.3, -4.43, -4.55, -4.68, -4.81, -4.93, -5.06, -5.19, -5.31, -5.44, -5.5, -6.0, -5.97, -6.02, -5.98, -6.03,
    -5.98, -6.03, -6.0, -6.05, -5.97, -6.02, -6.0, -6.04, -5.98, -6.02, -6.0,
    -6.05, -5.98, -6.02, -6.0, -5.97, -6.03, -6.0, -6.04, -5.98, -6.02, -6.0,
    -6.03, -5.99, -6.04, -6.0, -5.97, -6.03, -6.0, -6.02, -5.98, -6.03, -6.01,
    -5.99, -6.04, -6.0, -6.02, -5.97, -6.03, -6.0, -6.05, -5.98, -6.02, -6.0,
    -6.03, -5.98, -6.02, -6.0, -6.05, -5.99, -6.02, -5.98, -6.04, -6.0, -6.02,
    -5.98, -6.03, -6.0, -6.04, -5.98, -6.02, -6.0, -6.03, -5.99, -6.02, -6.04,
    -6.0, -6.03, -5.98, -6.02, -6.0, -6.06, -5.99, -6.03, -6.0, -6.02, -5.97]
T_16_16_16384 = [-4.05, -4.17, -4.3, -4.43, -4.55, -4.68, -4.81, -4.93, -5.06, -5.19, -5.31, -5.44, -5.5, -6.15, -6.12, -6.17, -6.13, -6.16,
    -6.14, -6.1, -6.16, -6.12, -6.18, -6.13, -6.15, -6.1, -6.14, -6.16, -6.12,
    -6.15, -6.11, -6.14, -6.12, -6.16, -6.13, -6.1, -6.14, -6.12, -6.15, -6.13,
    -6.11, -6.15, -6.12, -6.14, -6.16, -6.12, -6.15, -6.11, -6.14, -6.12, -6.16,
    -6.13, -6.15, -6.11, -6.14, -6.12, -6.16, -6.13, -6.15, -6.12, -6.14, -6.11,
    -6.15, -6.12, -6.14, -6.17, -6.13, -6.15, -6.12, -6.14, -6.16, -6.12, -6.14,
    -6.13, -6.16, -6.12, -6.15, -6.13, -6.1, -6.14, -6.12, -6.16, -6.13, -6.15,
    -6.12, -6.14, -6.16, -6.13, -6.15, -6.1, -6.14, -6.12, -6.15, -6.13, -6.08]

PANELS = {
    (4, 4): (HEAD_4_4, [T_4_4_2048, T_4_4_4096, T_4_4_8192, T_4_4_16384]),
    (4, 8): (HEAD_4_8, [T_4_8_2048, T_4_8_4096, T_4_8_8192, T_4_8_16384]),
    (4, 16): (HEAD_4_16, [T_4_16_2048, T_4_16_4096, T_4_16_8192, T_4_16_16384]),
    (8, 4): (HEAD_8_4, [T_8_4_2048, T_8_4_4096, T_8_4_8192, T_8_4_16384]),
    (8, 8): (HEAD_8_8, [T_8_8_2048, T_8_8_4096, T_8_8_8192, T_8_8_16384]),
    (8, 16): (HEAD_8_16, [T_8_16_2048, T_8_16_4096, T_8_16_8192, T_8_16_16384]),
    (16, 4): (HEAD_16_4, [T_16_4_2048, T_16_4_4096, T_16_4_8192, T_16_4_16384]),
    (16, 8): (HEAD_16_8, [T_16_8_2048, T_16_8_4096, T_16_8_8192, T_16_8_16384]),
    (16, 16): (HEAD_16_16, [T_16_16_2048, T_16_16_4096, T_16_16_8192, T_16_16_16384]),
}

# ---------------- style ----------------
COLORS = ['#a6d8ee', '#5b9bd5', '#2b6cb0', '#08306b']
WIDTHS = [1.9, 2.2, 2.5, 2.9]
plt.rcParams['font.family'] = ['DejaVu Sans']
plt.rcParams['mathtext.fontset'] = 'dejavusans'

W, H = 2046, 1513
DPI = 150
fig = plt.figure(figsize=(W / DPI, H / DPI), dpi=DPI, facecolor='white')

col_left = [218 / W, 875 / W, 1527 / W]
row_top = [124, 610, 1097]
ax_w = 506 / W
ax_h = 342 / H

iters = np.array(ITER_HEAD + ITER_MID + ITER_TAIL)
handles = None
for r, nx in enumerate(NX):
    for c, nu in enumerate(NU):
        bottom = (H - row_top[r] - 342) / H
        ax = fig.add_axes([col_left[c], bottom, ax_w, ax_h])
        head, tails = PANELS[(nx, nu)]
        lines = []
        for k, s in enumerate(SHOTS):
            vals = np.array(head + tails[k], dtype=float)
            n = min(len(vals), len(iters))
            ln, = ax.plot(iters[:n], 10 ** vals[:n], color=COLORS[k], lw=WIDTHS[k],
                          alpha=0.9, label=f'{s} shots', solid_joinstyle='round')
            lines.append(ln)
        if handles is None:
            handles = lines
        ax.set_yscale('log')
        ax.yaxis.set_major_locator(LogLocator(base=10, numticks=20))
        ax.yaxis.set_minor_locator(LogLocator(base=10, subs=np.arange(2, 10), numticks=20))
        ax.yaxis.set_minor_formatter(NullFormatter())
        ax.set_xticks([0, 25, 50, 75, 100, 125, 150, 175, 200])
        ax.set_facecolor('white')
        for sp in ax.spines.values():
            sp.set_color('#cccccc')
            sp.set_linewidth(1.2)
        ax.grid(True, which='major', axis='both', linestyle='--', color='#e3e3e3', lw=0.7)
        ax.grid(True, which='minor', axis='y', linestyle='--', color='#ececec', lw=0.6)
        ax.set_axisbelow(True)
        ax.tick_params(axis='both', which='major', labelsize=8, labelcolor='#555555',
                       color='#555555', length=4, width=1.0, direction='out')
        ax.tick_params(axis='y', which='minor', color='#222222', length=2, width=0.8)
        if r == 0:
            ax.set_title(f'$n_u = {nu}$', fontsize=12, color='#222222', pad=7)
        if c == 0:
            ax.set_ylabel(r'$|\nabla f|$', fontsize=10, color='#333333', labelpad=3)
        if r == len(NX) - 1:
            ax.set_xlabel('Iteration', fontsize=10.5, color='#333333', labelpad=1)
    fig.text(29 / W, 1 - (row_top[r] + 171) / H, f'$n_x = {nx}$', rotation=90,
             ha='center', va='center', fontsize=13, color='#222222')

leg = fig.legend(handles, [f'{s} shots' for s in SHOTS], title='Shot count',
                 loc='upper right', bbox_to_anchor=(2020 / W, 1 - 16 / H), borderaxespad=0,
                 fontsize=10, title_fontsize=10, frameon=True, fancybox=True,
                 facecolor='#f7f7f7', edgecolor='#cccccc', framealpha=0.85,
                 handlelength=2.4, labelspacing=0.5)

fig.savefig('out.png', dpi=DPI, facecolor='white')
